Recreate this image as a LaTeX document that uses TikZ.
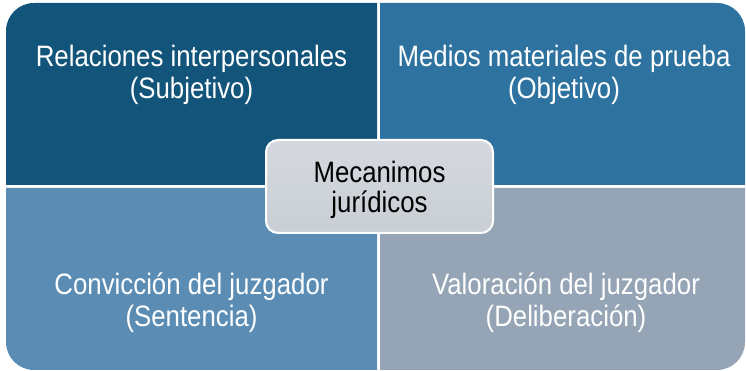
\documentclass[tikz,border=0pt]{standalone}
\usepackage{fontspec}
\setmainfont{Liberation Sans}[FakeStretch=0.875]
\definecolor{qtl}{HTML}{13547A}
\definecolor{qtr}{HTML}{2E73A0}
\definecolor{qbl}{HTML}{5B8DB4}
\definecolor{qbr}{HTML}{95A5B5}
\definecolor{ctop}{HTML}{D5D9DF}
\definecolor{cbot}{HTML}{C9CED5}
\begin{document}
\begin{tikzpicture}[x=1pt,y=1pt,
  qtext/.style={text=white,align=center,font=\fontsize{29.5}{32}\selectfont,inner sep=0pt},
  ctext/.style={text=black,align=center,font=\fontsize{29.5}{30}\selectfont,inner sep=0pt},
  cbox/.style={draw=white,line width=2pt,rounded corners=12pt,top color=ctop,bottom color=cbot,
    minimum width=227pt,minimum height=93pt,inner sep=0pt}]
\useasboundingbox (0,0) rectangle (746,371);
% quadrants
\fill[qtl] (377,186) -- (6,186) -- (6,340) arc[start angle=180,end angle=90,radius=28pt] -- (377,368) -- cycle;
\fill[qtr] (380,186) -- (380,368) -- (717,368) arc[start angle=90,end angle=0,radius=28pt] -- (745,186) -- cycle;
\fill[qbl] (6,183) -- (377,183) -- (377,1) -- (34,1) arc[start angle=270,end angle=180,radius=28pt] -- cycle;
\fill[qbr] (380,183) -- (745,183) -- (745,29) arc[start angle=0,end angle=-90,radius=28pt] -- (380,1) -- cycle;
% texts
\node[qtext] (tl) at (191.5,296.5) {Relaciones interpersonales\\(Subjetivo)};
\node[qtext] (tr) at (564,296.5) {Medios materiales de prueba\\(Objetivo)};
\node[qtext] (bl) at (191.5,68.5) {Convicción del juzgador\\(Sentencia)};
\node[qtext] (br) at (566,68.5) {Valoración del juzgador\\(Deliberación)};
% centre
\node[cbox] (c) at (379.5,184.5) {};
\node[ctext] (ct) at (379.5,181.5) {Mecanimos\\jurídicos};
\end{tikzpicture}
\end{document}
